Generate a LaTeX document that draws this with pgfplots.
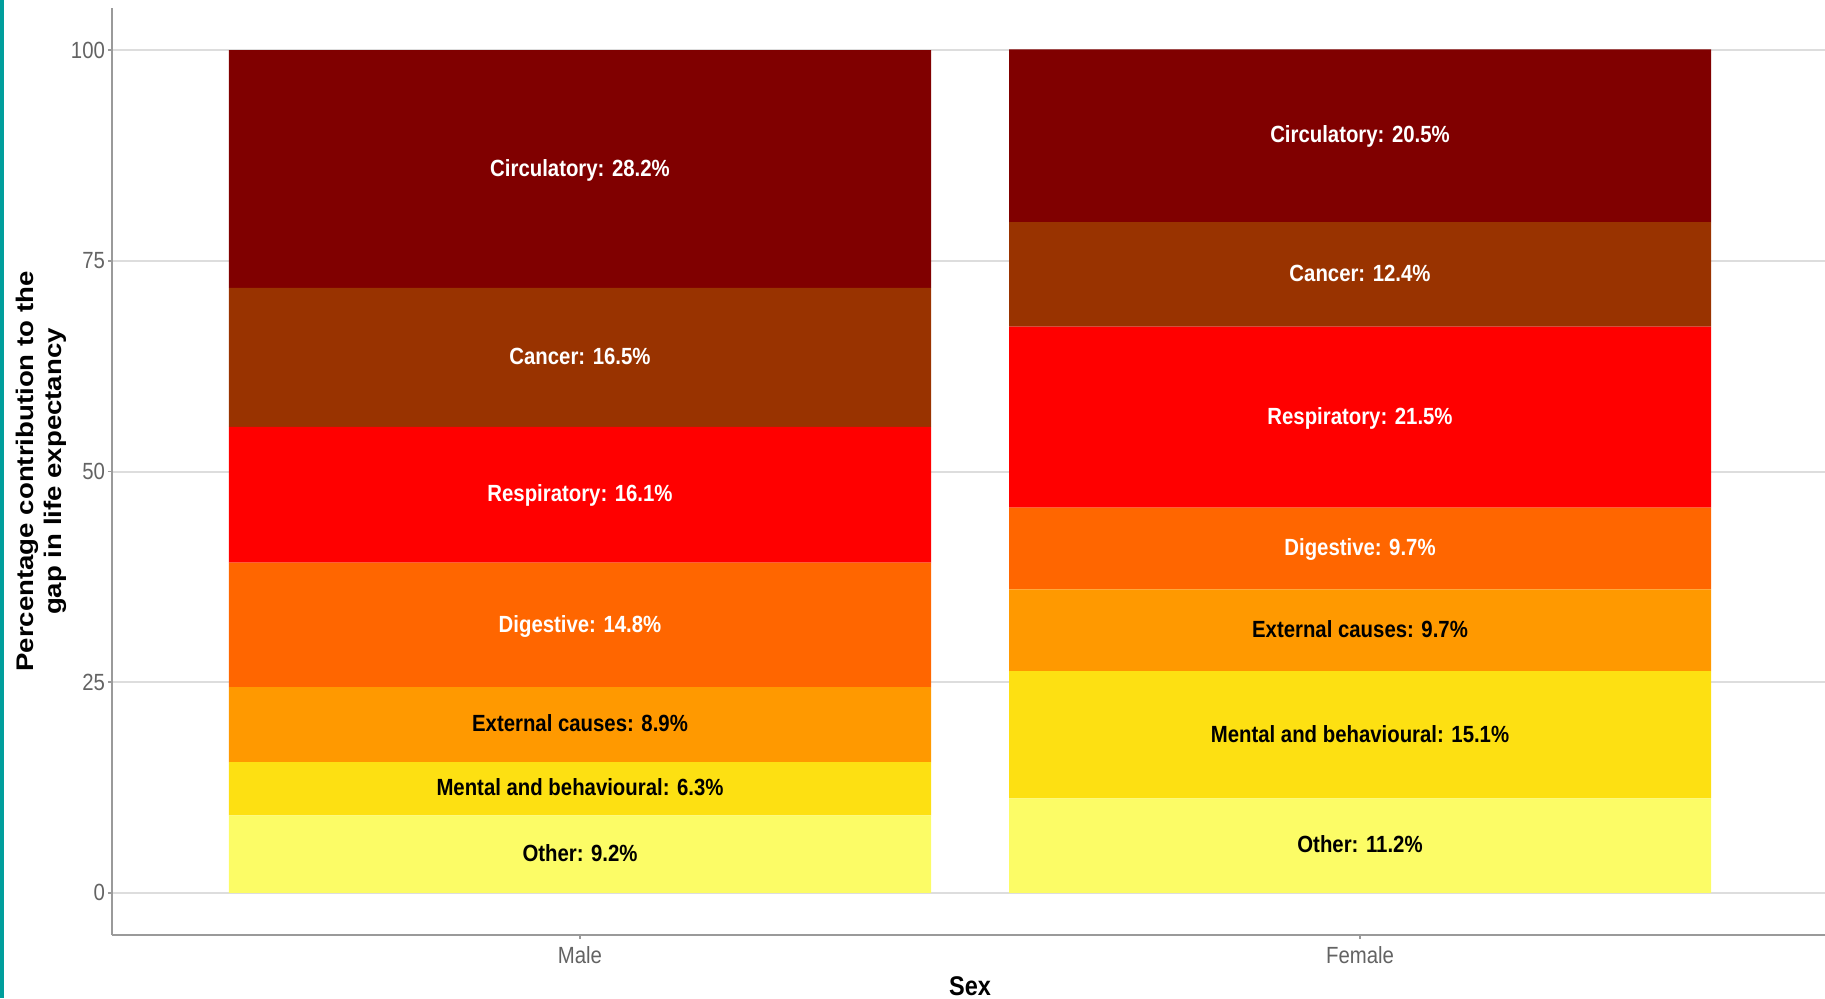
\documentclass[border=0pt]{standalone}
\usepackage{pgfplots}
\pgfplotsset{compat=1.18}
\usepackage{pgfplotstable}
\usepackage{graphicx}
\usepackage{fontspec}
\setmainfont{Liberation Sans}[FakeStretch=0.87]
\newfontfamily\ylabfont{Liberation Sans}

\definecolor{circ}{HTML}{800000}
\definecolor{canc}{HTML}{993300}
\definecolor{resp}{HTML}{FF0000}
\definecolor{dige}{HTML}{FF6600}
\definecolor{exte}{HTML}{FF9900}
\definecolor{ment}{HTML}{FDE012}
\definecolor{othr}{HTML}{FCFC66}
\definecolor{gridc}{HTML}{DDDDDD}
\definecolor{axisc}{HTML}{9A9A9A}
\definecolor{tickc}{HTML}{636363}
\definecolor{edgeteal}{HTML}{009E9C}

% contribution (%) to the gap in life expectancy, 1 = Male, 2 = Female
\pgfplotstableread{
x other mental external digestive respiratory cancer circulatory
1 9.2  6.3  8.9 14.8 16.1 16.5 28.2
2 11.2 15.1 9.7 9.7  21.5 12.4 20.5
}\gaptable

\pgfplotsset{gapframe/.style={
    scale only axis,
    width=858pt, height=463.5pt,
    xmin=0.4, xmax=2.6, ymin=-5, ymax=105}}

\begin{document}
\begin{tikzpicture}[seg/.style={font=\bfseries\fontsize{11.7}{12}\selectfont,
    text height=0.72em, text depth=0pt}]
\useasboundingbox (-56pt,-31.5pt) rectangle (856.5pt,467.5pt);
\fill[edgeteal] (-56pt,-31.5pt) rectangle (-54pt,467.5pt);
\begin{axis}[
    gapframe,
    ybar stacked, bar width=0.9,
    axis x line*=bottom, axis y line*=left,
    axis line style={axisc, line width=1pt},
    xtick={1,2}, xticklabels={Male,Female},
    ytick={0,25,50,75,100},
    ymajorgrids, grid style={gridc, line width=1pt},
    tick align=outside, major tick length=2pt,
    tick style={axisc, line width=0.75pt},
    /pgf/number format/assume math mode=true,
    ticklabel style={font=\fontsize{11.7}{12}\selectfont, text=tickc},
    yticklabel style={xshift=2pt},
    xlabel={Sex},
    xlabel style={font=\bfseries\fontsize{13.5}{14}\selectfont},
    every axis y label/.style={at={([xshift=-21pt]rel axis cs:0,0.5)},
        rotate=90, anchor=south, inner sep=0pt},
    ylabel={\scalebox{1}[0.87]{\ylabfont\bfseries\fontsize{13.8}{16.1}\selectfont
        \begin{tabular}{@{}c@{}}Percentage contribution to the\\gap in life expectancy\end{tabular}}},
]
\addplot[fill=othr, draw=none] table[x=x, y=other] {\gaptable};
\addplot[fill=ment, draw=none] table[x=x, y=mental] {\gaptable};
\addplot[fill=exte, draw=none] table[x=x, y=external] {\gaptable};
\addplot[fill=dige, draw=none] table[x=x, y=digestive] {\gaptable};
\addplot[fill=resp, draw=none] table[x=x, y=respiratory] {\gaptable};
\addplot[fill=canc, draw=none] table[x=x, y=cancer] {\gaptable};
\addplot[fill=circ, draw=none] table[x=x, y=circulatory] {\gaptable};
\end{axis}

% labels in the middle of each segment, on a second axis over the bars
\begin{axis}[gapframe, hide axis]
\node[seg] at (axis cs:1,{9.2/2}) {Other: 9.2\%};
\node[seg] at (axis cs:1,{9.2+6.3/2}) {Mental and behavioural: 6.3\%};
\node[seg] at (axis cs:1,{15.5+8.9/2}) {External causes: 8.9\%};
\node[seg, text=white] at (axis cs:1,{24.4+14.8/2}) {Digestive: 14.8\%};
\node[seg, text=white] at (axis cs:1,{39.2+16.1/2}) {Respiratory: 16.1\%};
\node[seg, text=white] at (axis cs:1,{55.3+16.5/2}) {Cancer: 16.5\%};
\node[seg, text=white] at (axis cs:1,{71.8+28.2/2}) {Circulatory: 28.2\%};

\node[seg] at (axis cs:2,{11.2/2}) {Other: 11.2\%};
\node[seg] at (axis cs:2,{11.2+15.1/2}) {Mental and behavioural: 15.1\%};
\node[seg] at (axis cs:2,{26.3+9.7/2}) {External causes: 9.7\%};
\node[seg, text=white] at (axis cs:2,{36.0+9.7/2}) {Digestive: 9.7\%};
\node[seg, text=white] at (axis cs:2,{45.7+21.5/2}) {Respiratory: 21.5\%};
\node[seg, text=white] at (axis cs:2,{67.2+12.4/2}) {Cancer: 12.4\%};
\node[seg, text=white] at (axis cs:2,{79.6+20.5/2}) {Circulatory: 20.5\%};
\end{axis}
\end{tikzpicture}
\end{document}
